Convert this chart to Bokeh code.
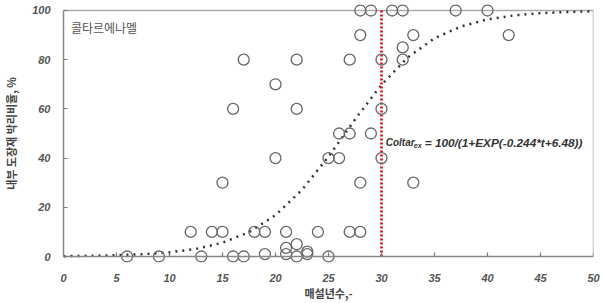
from bokeh.plotting import figure
from bokeh.models import (Range1d, FixedTicker, ColumnDataSource, LinearAxis,
                          CustomLabelingPolicy)
from bokeh.core.properties import value
from bokeh.embed import file_html
from bokeh.resources import INLINE

# ---- data ----
years = [6, 9, 12, 13, 14, 15, 15, 16, 17, 16, 17, 18, 19, 19, 20, 20, 21, 21, 21,
         22, 22, 22, 22, 23, 23, 24, 25, 25, 26, 26, 27, 27, 27, 28, 28, 28, 28,
         29, 29, 30, 30, 30, 31, 32, 32, 32, 33, 33, 37, 40, 42]
peel_ratio = [0, 0, 10, 0, 10, 10, 30, 0, 0, 60, 80, 10, 10, 1, 70, 40, 10, 3.5, 1,
              80, 60, 5, 0, 2, 1, 10, 40, 0, 40, 50, 50, 80, 10, 10, 30, 90, 100,
              100, 50, 80, 60, 40, 100, 100, 85, 80, 90, 30, 100, 100, 90]

# fitted curve Coltar_ex
curve_t = [0, 2.5, 5, 7.5, 10, 12.5, 15, 17.5, 20, 22.5, 25, 27.5, 30, 32.5, 35,
           37.5, 40, 42.5, 45, 47.5, 50]
curve_v = [0.15, 0.28, 0.52, 0.95, 1.7, 3.1, 5.6, 9.9, 16.8, 27.1, 40.6, 55.7, 69.8,
           81.0, 88.7, 93.5, 96.4, 98.0, 98.9, 99.4, 99.7]

threshold_year = [30, 30]
threshold_span = [0, 100]

x_ticks = [0, 5, 10, 15, 20, 25, 30, 35, 40, 45, 50]
y_ticks = [0, 20, 40, 60, 80, 100]

series_label = "콜타르에나멜"
x_title = "매설년수,-"
y_title = "내부 도장재 박리비율, %"
eq_main = "Coltar"
eq_sub = "ex"
eq_rest = "= 100/(1+EXP(-0.244*t+6.48))"

p = figure(width=602, height=303,
           x_range=Range1d(0, 50), y_range=Range1d(-2.43, 102.43),
           output_backend="svg", toolbar_location=None,
           min_border_left=63, min_border_right=9,
           min_border_top=4, min_border_bottom=40)
p.outline_line_color = None
p.grid.visible = False
p.background_fill_color = "white"
p.border_fill_color = "white"

tick_font = "Liberation Sans"


def style_labels(ax):
    ax.major_label_text_font = tick_font
    ax.major_label_text_font_style = "bold italic"
    ax.major_label_text_font_size = "11px"
    ax.major_label_text_color = "#555555"
    ax.axis_label_text_font = "Noto Sans CJK KR"
    ax.axis_label_text_font_style = "bold"
    ax.axis_label_text_font_size = "11px"
    ax.axis_label_text_color = "#444444"


# x axis line + inward ticks sitting at y = 0 (labels drawn by the axis below)
xa = p.below[0]
xa.fixed_location = 0
xa.bounds = (0, 50)
xa.ticker = FixedTicker(ticks=x_ticks)
xa.axis_line_color = "#888888"
xa.axis_line_width = 1.5
xa.major_tick_in = 4
xa.major_tick_out = 0
xa.major_tick_line_color = "#777777"
xa.major_tick_line_width = 1.2
xa.minor_tick_line_color = None
xa.major_label_standoff = 0
xa.major_label_policy = CustomLabelingPolicy(
    code="const all = [...indices]; for (const i of all) indices.unset(i); return indices")

# x tick labels and title below the frame
xl = LinearAxis(ticker=FixedTicker(ticks=x_ticks), bounds=(0, 50))
style_labels(xl)
xl.axis_line_color = None
xl.major_tick_line_color = None
xl.minor_tick_line_color = None
xl.major_tick_in = 0
xl.major_tick_out = 0
xl.major_label_standoff = 11
xl.axis_label = x_title
xl.axis_label_standoff = 0
p.add_layout(xl, "below")

# y axis
ya = p.yaxis[0]
ya.bounds = (0, 100)
ya.ticker = FixedTicker(ticks=y_ticks)
ya.axis_line_color = "#888888"
ya.axis_line_width = 1.5
ya.major_tick_in = 4
ya.major_tick_out = 0
ya.major_tick_line_color = "#777777"
ya.major_tick_line_width = 1.2
ya.minor_tick_line_color = None
style_labels(ya)
ya.major_label_standoff = 13
ya.axis_label = y_title
ya.axis_label_standoff = 10

# frame top and right border
p.segment(x0=[0, 50], y0=[100, 0], x1=[50, 50], y1=[100, 100],
          line_color="#aaaaaa", line_width=1.5)

# fitted curve
p.line(curve_t, curve_v, line_color="#333333", line_width=2.5, line_dash="2 5")

# threshold line
p.line(threshold_year, threshold_span, line_color="#e8141c", line_width=2.8,
       line_dash="2 2")

# data points
src = ColumnDataSource(dict(x=years, y=peel_ratio))
p.scatter("x", "y", source=src, marker="circle", size=11, fill_color=None,
          line_color="#666666", line_width=1.3)

# series label
p.text(x=[0.7], y=[93], text=[series_label], text_font=value("Noto Sans CJK KR"),
       text_font_size="12px", text_color="#555555", text_baseline="middle")

# equation annotation
p.text(x=[30.4], y=[46.2], text=[eq_main], text_font=value("Liberation Sans"),
       text_font_style="bold italic", text_font_size="10px", text_color="#333333",
       text_baseline="middle")
p.text(x=[30.4], y=[46.2], text=[eq_sub], x_offset=[28], y_offset=[3],
       text_font=value("Liberation Sans"), text_font_style="bold italic",
       text_font_size="7px", text_color="#333333", text_baseline="middle")
p.text(x=[30.4], y=[46.2], text=[eq_rest], x_offset=[39],
       text_font=value("Liberation Sans"), text_font_style="bold italic",
       text_font_size="11.8px", text_color="#333333", text_baseline="middle")

open("out.html", "w").write(file_html(p, INLINE))
